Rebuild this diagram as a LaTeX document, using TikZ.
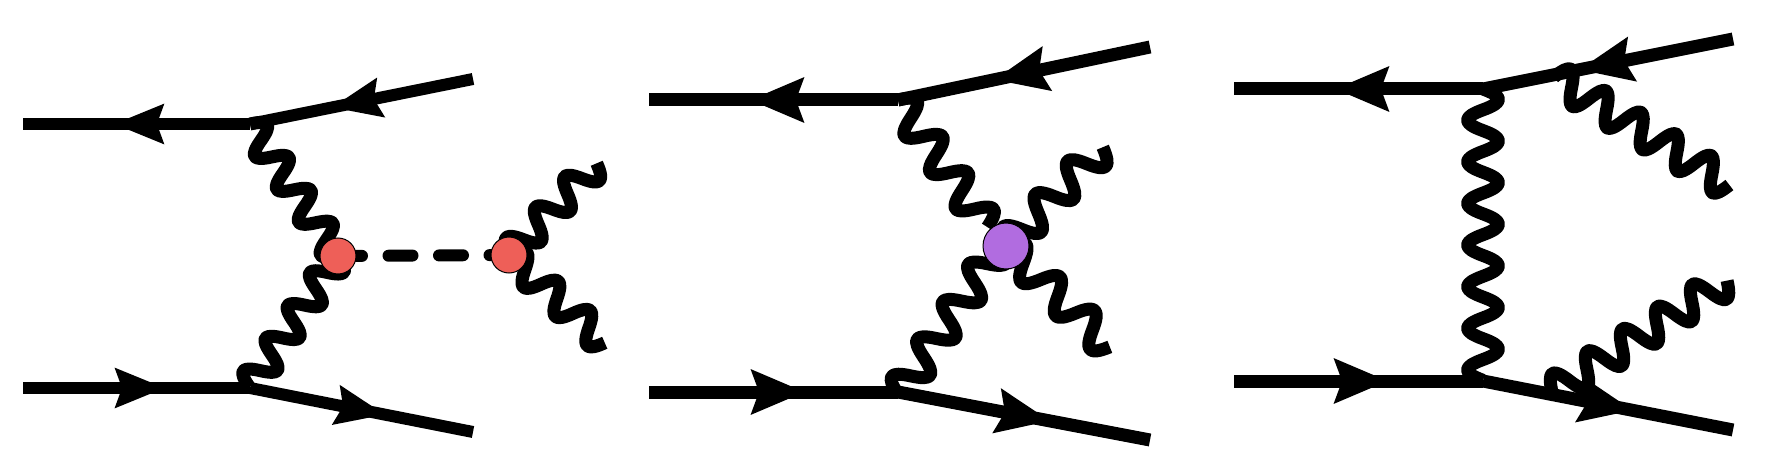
\documentclass[tikz,border=0pt]{standalone}
\usepackage{tikz}
\usetikzlibrary{arrows.meta,decorations.markings}
\definecolor{blobred}{HTML}{EE5F58}
\definecolor{blobpurple}{HTML}{B16CE0}
\pgfdeclaredecoration{wave}{up}{
\state{up}[switch if less than=0.25\pgfdecorationsegmentlength to final,width=0.5\pgfdecorationsegmentlength,next state=down]{
\pgfpathcurveto{\pgfqpoint{0.1821\pgfdecorationsegmentlength}{1.3333\pgfdecorationsegmentamplitude}}{\pgfqpoint{0.3179\pgfdecorationsegmentlength}{1.3333\pgfdecorationsegmentamplitude}}{\pgfqpoint{0.5\pgfdecorationsegmentlength}{0pt}}
}
\state{down}[switch if less than=0.25\pgfdecorationsegmentlength to final,width=0.5\pgfdecorationsegmentlength,next state=up]{
\pgfpathcurveto{\pgfqpoint{0.1821\pgfdecorationsegmentlength}{-1.3333\pgfdecorationsegmentamplitude}}{\pgfqpoint{0.3179\pgfdecorationsegmentlength}{-1.3333\pgfdecorationsegmentamplitude}}{\pgfqpoint{0.5\pgfdecorationsegmentlength}{0pt}}
}
\state{final}{}
}
\tikzset{
smalltip/.tip={Stealth[length=24.5pt,width=19pt,inset=3pt]},
bigtip/.tip={Stealth[length=26.5pt,width=21.5pt,inset=3.5pt]},
fermia/.style={line width=6pt,decoration={markings,mark=at position #1 with {\arrow{smalltip}}},postaction={decorate}},
fermib/.style={line width=6.5pt,decoration={markings,mark=at position #1 with {\arrow{bigtip}}},postaction={decorate}},
photon/.style 2 args={line width=6.5pt,line join=round,decorate,decoration={wave,segment length=#1,amplitude=#2,pre length=0pt,post length=0pt}},
scalar/.style={line width=6pt,line cap=round,dash pattern=on 12pt off 13.25pt},
blob/.style={circle,draw=black,line width=0.5pt,inner sep=0pt,minimum size=#1}
}
\begin{document}
\begin{tikzpicture}[x=0.5pt,y=0.5pt]
\useasboundingbox (0,0) rectangle (1767,467);
\coordinate (lta) at (23,343);
\coordinate (vta) at (250,343);
\coordinate (rta) at (473,388);
\coordinate (lba) at (23,79);
\coordinate (vba) at (250,79);
\coordinate (rba) at (473,35);
\coordinate (endua) at (597,304);
\coordinate (endda) at (605,124);
\coordinate (lowa) at (248,78);
\coordinate (joina) at (338,211);
\coordinate (higgs) at (509,212);
\draw[photon={19.78pt}{7pt}] (vta) -- (joina);
\draw[photon={19.78pt}{7pt}] (joina) -- (lowa);
\draw[scalar] (joina) -- (higgs);
\draw[photon={21.15pt}{7pt}] (higgs) -- (endua);
\draw[photon={21.65pt}{7pt}] (higgs) -- (endda);
\draw[fermia=0.634] (rta) -- (vta);
\draw[fermia=0.6] (vta) -- (lta);
\draw[fermia=0.626] (lba) -- (vba);
\draw[fermia=0.607] (vba) -- (rba);
\node[blob=18pt,fill=blobred] (ca) at (joina) {};
\node[blob=18pt,fill=blobred] (cb) at (higgs) {};

\coordinate (ltb) at (649,367);
\coordinate (vtb) at (898,367);
\coordinate (rtb) at (1150,420);
\coordinate (lbb) at (649,75);
\coordinate (vbb) at (898,75);
\coordinate (rbb) at (1150,27);
\coordinate (endub) at (1103,320);
\coordinate (enddb) at (1110,120);
\coordinate (lowb) at (898,72);
\coordinate (joinb) at (1000,222);
\coordinate (mid) at (1006,221);
\draw[photon={22.21pt}{7.75pt}] (vtb) -- (joinb);
\draw[photon={22.62pt}{7.75pt}] (joinb) -- (lowb);
\draw[photon={23.05pt}{7.75pt}] (mid) -- (endub);
\draw[photon={24.12pt}{7.75pt}] (mid) -- (enddb);
\draw[fermib=0.619] (rtb) -- (vtb);
\draw[fermib=0.595] (vtb) -- (ltb);
\draw[fermib=0.627] (lbb) -- (vbb);
\draw[fermib=0.604] (vbb) -- (rbb);
\node[blob=23pt,fill=blobpurple] (cc) at (mid) {};

\coordinate (ltc) at (1234,378);
\coordinate (vtc) at (1483,378);
\coordinate (rtc) at (1733,428);
\coordinate (lbc) at (1234,86);
\coordinate (vbc) at (1483,86);
\coordinate (rbc) at (1733,37);
\coordinate (emu) at (1554,390);
\coordinate (endu) at (1731,281);
\coordinate (emd) at (1552,75);
\coordinate (endd) at (1728,187);
\draw[photon={20.81pt}{7.75pt}] (vtc) -- (vbc);
\draw[photon={20.6pt}{7.75pt}] (emu) -- (endu);
\draw[photon={20.75pt}{7.75pt}] (emd) -- (endd);
\draw[fermib=0.616] (rtc) -- (vtc);
\draw[fermib=0.595] (vtc) -- (ltc);
\draw[fermib=0.619] (lbc) -- (vbc);
\draw[fermib=0.6] (vbc) -- (rbc);
\end{tikzpicture}
\end{document}
